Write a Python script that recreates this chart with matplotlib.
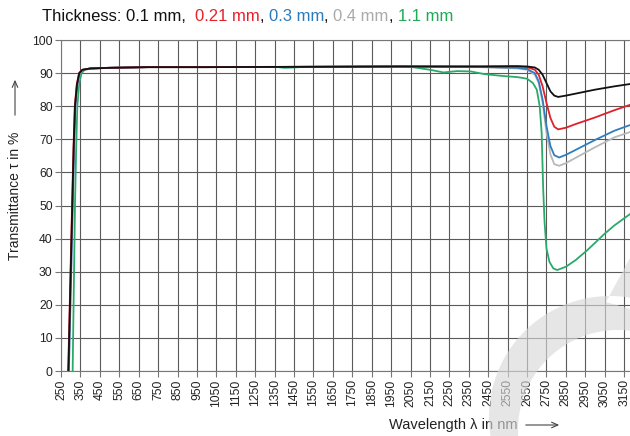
import numpy as np
import matplotlib
matplotlib.use("Agg")
import matplotlib.pyplot as plt
from matplotlib.path import Path
from matplotlib.patches import PathPatch
from matplotlib.transforms import IdentityTransform

plt.rcParams['font.family'] = ['Liberation Sans', 'DejaVu Sans']

# transmittance curves, wavelength in nm / transmittance in %
wl_black = [288, 298, 308, 315, 322, 332, 344, 360, 400, 500, 700, 1000, 1500, 2000, 2400, 2600,
            2650, 2690, 2710, 2730, 2750, 2770, 2790, 2810, 2850, 2900, 3000, 3100, 3180]
t_black = [0, 25, 50, 67, 80, 86.5, 90, 91, 91.4, 91.6, 91.8, 91.8, 91.9, 92.0, 92.0, 92.1,
           92.0, 91.7, 91.0, 89.5, 87.0, 84.5, 83.2, 82.8, 83.2, 83.8, 85.0, 86.0, 86.7]

wl_red = [287, 297, 307, 314, 321, 331, 343, 360, 400, 500, 700, 1000, 1500, 2000, 2400, 2600,
          2650, 2690, 2710, 2730, 2750, 2770, 2790, 2810, 2850, 2900, 3000, 3100, 3180]
t_red = [0, 25, 50, 67, 80, 86.5, 90, 91, 91.4, 91.6, 91.8, 91.8, 91.9, 92.0, 92.0, 92.0,
         91.8, 91.0, 89.5, 86.0, 81.0, 76.5, 73.8, 73.0, 73.5, 74.6, 76.6, 78.8, 80.4]

wl_blue = [290, 300, 310, 317, 324, 334, 346, 362, 400, 500, 700, 1000, 1500, 2000, 2400, 2600,
           2650, 2690, 2710, 2730, 2750, 2770, 2790, 2815, 2850, 2900, 3000, 3100, 3180]
t_blue = [0, 25, 50, 67, 80, 86.5, 90, 91, 91.4, 91.6, 91.8, 91.8, 91.9, 92.0, 91.9, 91.6,
          91.2, 90.0, 87.5, 82.0, 74.0, 68.0, 65.2, 64.5, 65.3, 66.8, 69.8, 72.6, 74.3]

wl_gray = [291, 301, 311, 318, 325, 335, 347, 363, 400, 500, 700, 1000, 1500, 2000, 2400, 2600,
           2650, 2690, 2710, 2730, 2750, 2770, 2790, 2815, 2850, 2900, 3000, 3100, 3180]
t_gray = [0, 25, 50, 67, 80, 86.5, 90, 91, 91.4, 91.6, 91.8, 91.8, 91.9, 92.0, 91.8, 91.4,
          91.0, 89.5, 87.0, 81.0, 72.0, 65.5, 62.5, 62.0, 62.8, 64.4, 67.6, 70.6, 72.2]

wl_green = [310, 316, 322, 328, 334, 344, 356, 372, 400, 500, 700, 1000, 1350, 1400, 1450, 1500, 2000,
            2050, 2150, 2220, 2290, 2360, 2430, 2530, 2600, 2650, 2680, 2700, 2715, 2725, 2733,
            2740, 2750, 2765, 2785, 2805, 2850, 2900, 2960, 3050, 3100, 3180]
t_green = [0, 25, 50, 67, 80, 87, 90, 91, 91.3, 91.6, 91.8, 91.8, 91.9, 91.6, 91.7, 91.9, 92.0,
           91.9, 91.0, 90.2, 90.6, 90.5, 89.7, 89.1, 88.8, 88.3, 87.0, 85.0, 80.0, 72.0, 55.0,
           45.0, 37.0, 33.0, 31.0, 30.5, 31.5, 33.5, 36.5, 41.5, 44.0, 47.4]

x_ticks = list(range(250, 3151, 100))
y_ticks = list(range(0, 101, 10))

title_parts = [("Thickness: 0.1 mm,  ", "#111111"), ("0.21 mm", "#e8202a"), (", ", "#111111"),
               ("0.3 mm", "#2b7bba"), (", ", "#111111"), ("0.4 mm", "#aaaaaa"),
               (", ", "#111111"), ("1.1 mm", "#1faa55")]

W, H = 630, 436
fig = plt.figure(figsize=(6.3, 4.36), dpi=100)
ax = fig.add_axes([61 / W, 65 / H, (W - 61) / W, 331 / H])

ax.plot(wl_black, t_black, color="#111111", lw=1.3, zorder=6)
ax.plot(wl_gray, t_gray, color="#b8b8b8", lw=1.3, zorder=3)
ax.plot(wl_blue, t_blue, color="#2f7ec0", lw=1.3, zorder=4)
ax.plot(wl_red, t_red, color="#e0202a", lw=1.3, zorder=5)
ax.plot(wl_green, t_green, color="#2aaa6a", lw=1.3, zorder=2)

ax.set_xlim(250, 3180)
ax.set_ylim(0, 100)
ax.set_xticks(x_ticks)
ax.set_xticklabels([str(v) for v in x_ticks], rotation=90)
ax.set_yticks(y_ticks)
ax.tick_params(labelsize=8.7, colors="#222222", length=4, width=0.8, pad=2)
ax.tick_params(axis='both', color="#777777")
ax.grid(True, color="#5a5a5a", lw=0.8)
ax.set_axisbelow(True)
ax.spines["right"].set_visible(False)
for side in ("left", "bottom", "top"):
    ax.spines[side].set_color("#777777")
    ax.spines[side].set_linewidth(0.8)

# axis labels with arrows
fig.text(15 / W, 1 - 196 / H, "Transmittance τ in %", rotation=90, fontsize=10,
         color="#222222", ha="center", va="center")
fig.text(389 / W, 1 - 425 / H, "Wavelength λ in nm", fontsize=10.5,
         color="#222222", ha="left", va="center")
arrow = dict(arrowstyle="->,head_length=0.45,head_width=0.2", color="#444444", lw=0.8)
ax.annotate("", xy=(15, H - 77), xytext=(15, H - 118), xycoords="figure pixels",
            textcoords="figure pixels", arrowprops=arrow)
ax.annotate("", xy=(562, H - 425), xytext=(523, H - 425), xycoords="figure pixels",
            textcoords="figure pixels", arrowprops=arrow)

# coloured title
renderer = fig.canvas.get_renderer()
x = 42 / W
for s, c in title_parts:
    t = fig.text(x, 1 - 21 / H, s, color=c, fontsize=12, ha="left", va="baseline")
    bb = t.get_window_extent(renderer)
    x = bb.x1 / W

# faint watermark arc, bottom right (figure pixels)
th = np.linspace(0, 2 * np.pi, 200)
outer = np.column_stack([610 + 121 * np.cos(th), (H - 417) + 121 * np.sin(th)])
inner = np.column_stack([618 + 100 * np.cos(th), (H - 430) + 100 * np.sin(th)])[::-1]
notch = np.array([[606, H - 302], [630, H - 258], [634, H - 258], [634, H - 310], [606, H - 302]])
verts = np.concatenate([outer, inner, notch])
codes = ([Path.MOVETO] + [Path.LINETO] * (len(outer) - 2) + [Path.CLOSEPOLY]) * 2 + \
        [Path.MOVETO] + [Path.LINETO] * 3 + [Path.CLOSEPOLY]
wm = PathPatch(Path(verts, codes), facecolor="#d8d8d8", edgecolor="none", alpha=0.64,
               transform=IdentityTransform(), zorder=20)
fig.patches.append(wm)

fig.savefig("out.png", dpi=100)
